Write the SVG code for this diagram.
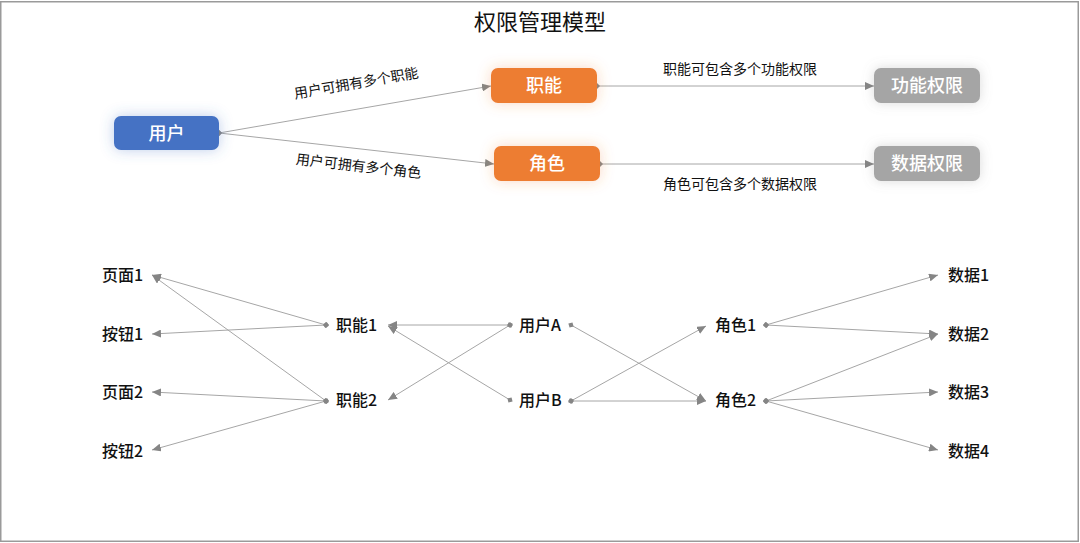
<svg xmlns="http://www.w3.org/2000/svg" width="1080" height="543" viewBox="0 0 1080 543">
<style>
.t{font-family:"Noto Sans CJK SC","Liberation Sans",sans-serif;}
.title{font-size:22px;fill:#111;}
.box{font-size:18px;fill:#fff;font-weight:500;}
.lbl{font-size:14px;fill:#111;}
.n{font-size:16px;fill:#111;font-weight:500;}
.c{stroke:#a6a6a6;stroke-width:1;fill:none;marker-start:url(#dot);marker-end:url(#arr);}
</style>
<defs>
<marker id="arr" markerUnits="userSpaceOnUse" markerWidth="9" markerHeight="8" refX="9" refY="4" orient="auto">
<path d="M0,0 L9,4 L0,8 z" fill="#858585"/>
</marker>
<marker id="dot" markerUnits="userSpaceOnUse" markerWidth="8" markerHeight="8" refX="4" refY="4" orient="auto">
<path d="M4,1 L7,4 L4,7 L1,4 z" fill="#858585"/>
</marker>
<filter id="gb" x="-50%" y="-80%" width="200%" height="260%">
<feGaussianBlur in="SourceAlpha" stdDeviation="7" result="b"/>
<feFlood flood-color="#4472C4" flood-opacity="0.35"/>
<feComposite operator="in" in2="b"/>
<feMerge><feMergeNode/><feMergeNode in="SourceGraphic"/></feMerge>
</filter>
<filter id="go" x="-50%" y="-80%" width="200%" height="260%">
<feGaussianBlur in="SourceAlpha" stdDeviation="7" result="b"/>
<feFlood flood-color="#ED7D31" flood-opacity="0.3"/>
<feComposite operator="in" in2="b"/>
<feMerge><feMergeNode/><feMergeNode in="SourceGraphic"/></feMerge>
</filter>
<filter id="gg" x="-50%" y="-80%" width="200%" height="260%">
<feGaussianBlur in="SourceAlpha" stdDeviation="6" result="b"/>
<feFlood flood-color="#888" flood-opacity="0.3"/>
<feComposite operator="in" in2="b"/>
<feMerge><feMergeNode/><feMergeNode in="SourceGraphic"/></feMerge>
</filter>
</defs>
<rect x="0" y="0" width="1080" height="543" fill="#fff"/>
<rect x="0.75" y="1.75" width="1077.5" height="539.5" fill="none" stroke="#9a9a9a" stroke-width="1.5"/>
<text class="t title" x="540" y="30" text-anchor="middle">权限管理模型</text>

<g id="connectors">
<path class="c" d="M219,133 L491,86"/>
<path class="c" d="M219,133 L494,164"/>
<path class="c" d="M597,86 L874,86"/>
<path class="c" d="M600,164 L874,164"/>
<path class="c" d="M326,325 L152,275"/>
<path class="c" d="M326,325 L152,334"/>
<path class="c" d="M326,401 L152,275"/>
<path class="c" d="M326,401 L152,392"/>
<path class="c" d="M326,401 L152,450"/>
<path class="c" d="M510,325 L388,325"/>
<path class="c" d="M510,325 L388,400"/>
<path class="c" d="M510,400 L388,326"/>
<path class="c" d="M571,325 L706,401"/>
<path class="c" d="M571,401 L706,326"/>
<path class="c" d="M571,401 L706,401"/>
<path class="c" d="M766,325 L938,275"/>
<path class="c" d="M766,325 L938,334"/>
<path class="c" d="M766,401 L938,334"/>
<path class="c" d="M766,401 L938,392"/>
<path class="c" d="M766,401 L938,450"/>
</g>
<g id="edge-labels">
<text class="t lbl" transform="translate(357,88) rotate(-9.8)" text-anchor="middle">用户可拥有多个职能</text>
<text class="t lbl" transform="translate(358,171) rotate(6.4)" text-anchor="middle">用户可拥有多个角色</text>
<text class="t lbl" x="740" y="74" text-anchor="middle">职能可包含多个功能权限</text>
<text class="t lbl" x="740" y="189" text-anchor="middle">角色可包含多个数据权限</text>
</g>

<g id="n-user"><rect x="114" y="116" width="105" height="34" rx="7" fill="#4472C4" filter="url(#gb)"/><text class="t box" x="166.5" y="139.5" text-anchor="middle">用户</text></g>
<g id="n-func"><rect x="491" y="68" width="106" height="35" rx="7" fill="#ED7D31" filter="url(#go)"/><text class="t box" x="544" y="92" text-anchor="middle">职能</text></g>
<g id="n-role"><rect x="494" y="146" width="106" height="35" rx="7" fill="#ED7D31" filter="url(#go)"/><text class="t box" x="547" y="170" text-anchor="middle">角色</text></g>
<g id="n-fperm"><rect x="874" y="68" width="106" height="35" rx="7" fill="#A5A5A5" filter="url(#gg)"/><text class="t box" x="927" y="92" text-anchor="middle">功能权限</text></g>
<g id="n-dperm"><rect x="874" y="146" width="106" height="35" rx="7" fill="#A5A5A5" filter="url(#gg)"/><text class="t box" x="927" y="170" text-anchor="middle">数据权限</text></g>

<g id="n-page1"><text class="t n" x="102" y="281">页面1</text></g>
<g id="n-btn1"><text class="t n" x="102" y="340">按钮1</text></g>
<g id="n-page2"><text class="t n" x="102" y="398">页面2</text></g>
<g id="n-btn2"><text class="t n" x="102" y="457">按钮2</text></g>
<g id="n-func1"><text class="t n" x="336" y="331">职能1</text></g>
<g id="n-func2"><text class="t n" x="336" y="406">职能2</text></g>
<g id="n-userA"><text class="t n" x="519" y="331">用户A</text></g>
<g id="n-userB"><text class="t n" x="519" y="406">用户B</text></g>
<g id="n-role1"><text class="t n" x="715" y="331">角色1</text></g>
<g id="n-role2"><text class="t n" x="715" y="406">角色2</text></g>
<g id="n-data1"><text class="t n" x="948" y="281">数据1</text></g>
<g id="n-data2"><text class="t n" x="948" y="340">数据2</text></g>
<g id="n-data3"><text class="t n" x="948" y="398">数据3</text></g>
<g id="n-data4"><text class="t n" x="948" y="457">数据4</text></g>
</svg>
